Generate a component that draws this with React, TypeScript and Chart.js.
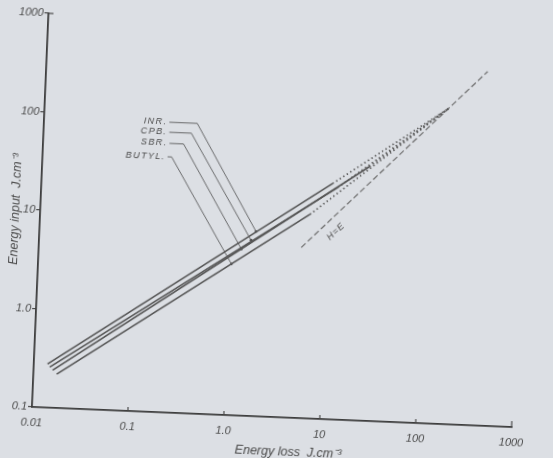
import { useEffect, useRef } from "react";
import { Chart, registerables } from "chart.js";

Chart.register(...registerables);

// Axis decades and their printed labels
const X_TICKS = [0.01, 0.1, 1, 10, 100, 1000];
const X_TICK_LABELS = ["0.01", "0.1", "1.0", "10", "100", "1000"];
const Y_TICKS = [0.1, 1, 10, 100, 1000];
const Y_TICK_LABELS = ["0.1", "1.0", "10", "100", "1000"];

const X_TITLE = "Energy loss  J.cm⁻³";
const Y_TITLE = "Energy input  J.cm⁻³";

// Rubbers, top line first
const RUBBERS = ["INR.", "CPB.", "SBR.", "BUTYL."];

// Solid (measured) part of each line: energy loss / energy input, J cm-3
const LOSS_START = [0.0139, 0.0147, 0.0158, 0.0175];
const INPUT_START = [0.277, 0.258, 0.2415, 0.221];
const LOSS_END = [10.75, 12.2, 25.5, 6.44];
const INPUT_END = [24.8, 22.7, 38.1, 11.8];

// Dotted extrapolation runs into the H = E line here
const MEET_LOSS = 160;
const MEET_INPUT = 160;

// H = E reference line
const HE_LOSS = [5.4, 395];
const HE_INPUT = [5.4, 395];
const HE_LABEL_LOSS = 12.2;
const HE_LABEL_INPUT = 8.1;

// Leader lines: label end, elbow, point on the rubber's line
const LEADER_LOSS = [
  [0.202, 0.395, 1.8],
  [0.204, 0.346, 1.61],
  [0.207, 0.29, 1.29],
  [0.2006, 0.221, 1.03],
];
const LEADER_INPUT = [
  [88.5, 88.5, 7.5],
  [70.0, 70.0, 6.1],
  [54.0, 54.0, 4.9],
  [39.4, 39.4, 3.43],
];

const INK = "#4a4a4a";
const LINE = "#555555";
const FONT = "'Liberation Sans', Arial, sans-serif";

const labelPlugin = {
  id: "rubberLabels",
  afterDatasetsDraw(chart: any) {
    const { ctx, scales, chartArea } = chart;
    const xs = scales.x;
    const ys = scales.y;
    ctx.save();

    // short inward ticks on the energy-loss axis
    ctx.strokeStyle = INK;
    ctx.lineWidth = 1.2;
    X_TICKS.slice(1).forEach((v, i) => {
      const px = xs.getPixelForValue(v);
      const len = i === X_TICKS.length - 2 ? 6 : 4;
      ctx.beginPath();
      ctx.moveTo(px, chartArea.bottom);
      ctx.lineTo(px, chartArea.bottom - len);
      ctx.stroke();
    });
    // top tick of the energy-input axis
    const topY = ys.getPixelForValue(Y_TICKS[Y_TICKS.length - 1]);
    ctx.beginPath();
    ctx.moveTo(chartArea.left, topY);
    ctx.lineTo(chartArea.left + 5, topY);
    ctx.stroke();

    // energy-loss axis title, set a little right of centre
    ctx.fillStyle = INK;
    ctx.font = `italic 12.5px ${FONT}`;
    ctx.textAlign = "center";
    ctx.textBaseline = "middle";
    ctx.fillText(X_TITLE, chartArea.left + (chartArea.right - chartArea.left) * 0.537, chartArea.bottom + 35);

    // rubber names at the leader ends
    ctx.font = `italic 9px ${FONT}`;
    (ctx as any).letterSpacing = "1.4px";
    ctx.textAlign = "right";
    RUBBERS.forEach((name, i) => {
      const px = xs.getPixelForValue(LEADER_LOSS[i][0]);
      const py = ys.getPixelForValue(LEADER_INPUT[i][0]);
      ctx.fillText(name, px - 2, py);
    });

    // H = E label along its line
    const a = { x: xs.getPixelForValue(10), y: ys.getPixelForValue(10) };
    const b = { x: xs.getPixelForValue(100), y: ys.getPixelForValue(100) };
    const ang = Math.atan2(b.y - a.y, b.x - a.x);
    ctx.translate(xs.getPixelForValue(HE_LABEL_LOSS), ys.getPixelForValue(HE_LABEL_INPUT));
    ctx.rotate(ang);
    ctx.textAlign = "center";
    ctx.font = `italic 9px ${FONT}`;
    (ctx as any).letterSpacing = "1px";
    ctx.fillText("H=E", 0, 0);
    ctx.restore();
  },
};

export default function App() {
  const ref = useRef<HTMLCanvasElement | null>(null);

  useEffect(() => {
    if (!ref.current) return;

    const datasets: any[] = [];

    RUBBERS.forEach((name, i) => {
      datasets.push({
        label: name,
        data: [
          { x: LOSS_START[i], y: INPUT_START[i] },
          { x: LOSS_END[i], y: INPUT_END[i] },
        ],
        borderColor: LINE,
        borderWidth: 1.6,
        pointRadius: 0,
      });
      datasets.push({
        label: name + " extrapolated",
        data: [
          { x: LOSS_END[i], y: INPUT_END[i] },
          { x: MEET_LOSS, y: MEET_INPUT },
        ],
        borderColor: "#5a5a5a",
        borderWidth: 1.7,
        borderDash: [1.4, 2.8],
        pointRadius: 0,
      });
      datasets.push({
        label: name + " leader",
        data: LEADER_LOSS[i].map((x, k) => ({ x, y: LEADER_INPUT[i][k] })),
        borderColor: INK,
        borderWidth: 0.8,
        pointRadius: [0, 0, 1.3],
        pointBackgroundColor: INK,
        pointBorderWidth: 0,
      });
    });

    datasets.push({
      label: "H=E",
      data: HE_LOSS.map((x, k) => ({ x, y: HE_INPUT[k] })),
      borderColor: "#6e6e6e",
      borderWidth: 1.2,
      borderDash: [6, 3],
      pointRadius: 0,
    });

    const tickFont = { family: FONT, size: 11, style: "italic" as const };
    const titleFont = { family: FONT, size: 12.5, style: "italic" as const };

    const chart = new Chart(ref.current, {
      type: "line",
      data: { datasets },
      options: {
        responsive: false,
        animation: false,
        devicePixelRatio: 1,
        parsing: false as any,
        layout: { padding: { top: 13, right: 41, left: 0, bottom: 0 } },
        plugins: {
          legend: { display: false },
          tooltip: { enabled: false },
        },
        elements: { line: { tension: 0 } },
        scales: {
          x: {
            type: "logarithmic",
            min: 0.01,
            max: 1000,
            afterBuildTicks: (s: any) => {
              s.ticks = X_TICKS.map((value) => ({ value }));
            },
            afterFit: (s: any) => {
              s.height = 51;
            },
            ticks: {
              autoSkip: false,
              maxRotation: 0,
              padding: 9,
              color: INK,
              font: tickFont,
              callback: (_v: any, i: number) => X_TICK_LABELS[i],
            },
            grid: { drawOnChartArea: false, drawTicks: false },
            border: { display: true, color: "#3c3c3c", width: 1.8 },
            title: { display: false },
          },
          y: {
            type: "logarithmic",
            min: 0.1,
            max: 1000,
            afterBuildTicks: (s: any) => {
              s.ticks = Y_TICKS.map((value) => ({ value }));
            },
            afterFit: (s: any) => {
              s.width = 32;
            },
            ticks: {
              autoSkip: false,
              padding: 1,
              color: INK,
              font: tickFont,
              callback: (_v: any, i: number) => Y_TICK_LABELS[i],
            },
            grid: {
              drawOnChartArea: false,
              drawTicks: true,
              tickLength: 4,
              tickColor: INK,
              lineWidth: 1.2,
            },
            border: { display: true, color: "#3c3c3c", width: 1.8 },
            title: {
              display: true,
              text: Y_TITLE,
              color: INK,
              font: titleFont,
              padding: { top: 0, bottom: 0 },
            },
          },
        },
      },
      plugins: [labelPlugin],
    });

    return () => chart.destroy();
  }, []);

  return (
    <div
      style={{
        position: "fixed",
        left: 0,
        top: 0,
        width: 553,
        height: 458,
        overflow: "hidden",
        background: "#dcdfe4",
      }}
    >
      <canvas
        ref={ref}
        width={553}
        height={458}
        style={{
          display: "block",
          transform: "rotate(2.4deg)",
          transformOrigin: "32px 407px",
        }}
      />
    </div>
  );
}
